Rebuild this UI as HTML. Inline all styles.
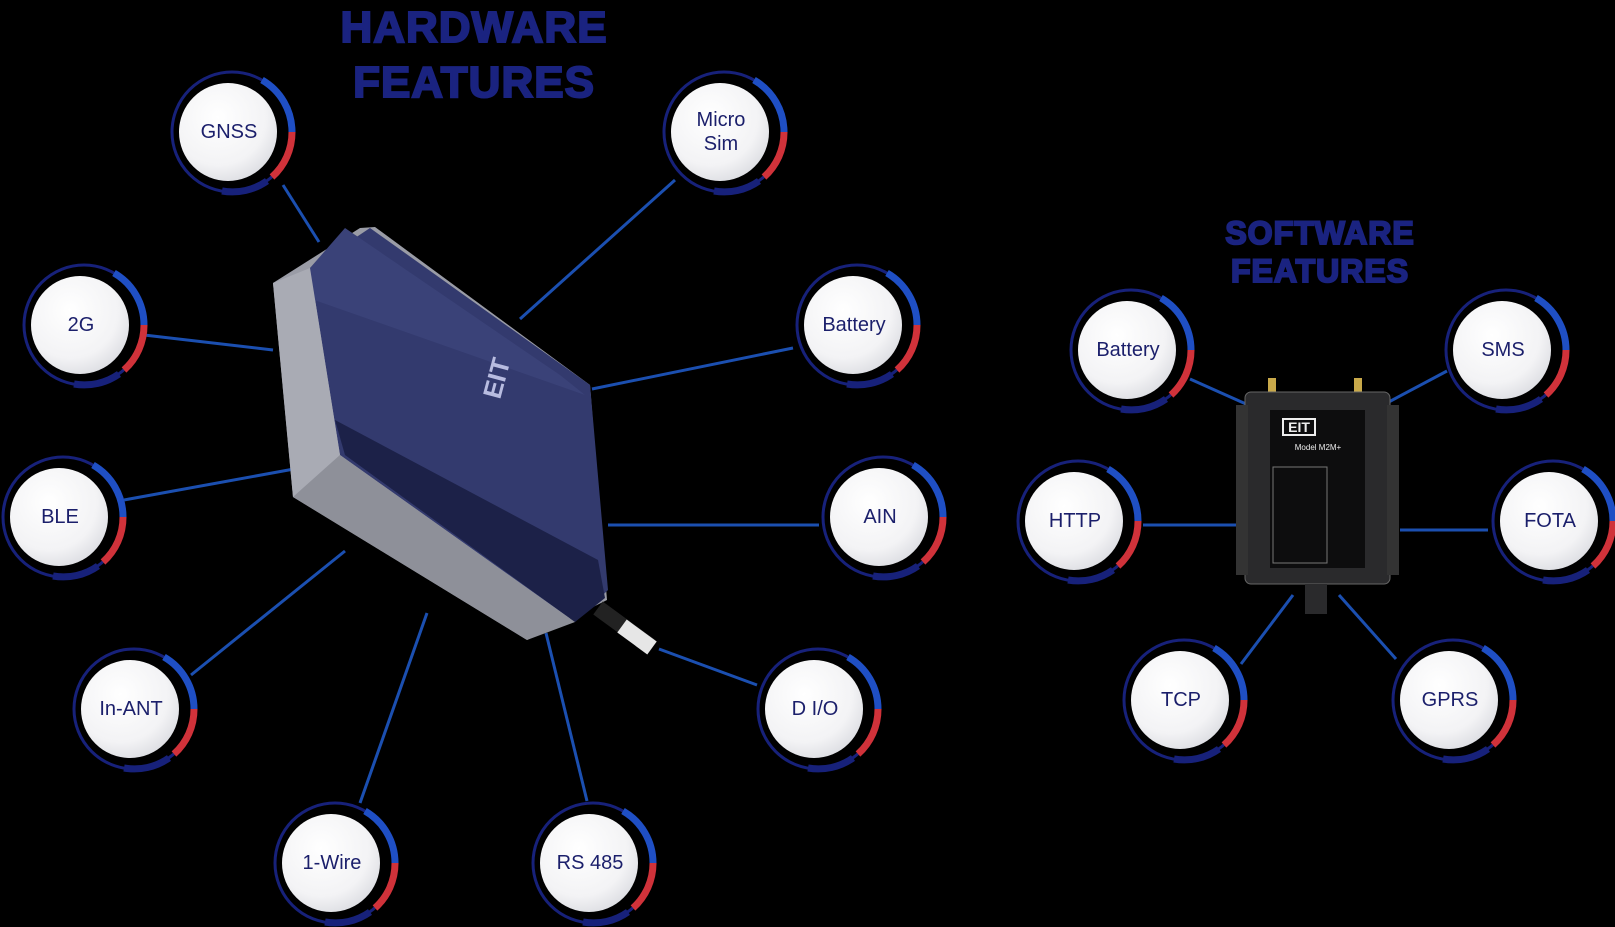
<!DOCTYPE html>
<html><head><meta charset="utf-8"><style>
html,body{margin:0;padding:0;background:#000;}
body{width:1615px;height:927px;overflow:hidden;}
svg{display:block}
.t{font-family:"Liberation Sans",sans-serif;fill:#1b1f6b;font-size:20px;text-anchor:middle;dominant-baseline:central}
.h{font-family:"Liberation Sans",sans-serif;font-weight:bold;fill:#1a2380;stroke:#1a2380;stroke-width:2;text-anchor:middle;letter-spacing:1px}
.ln{stroke:#1b4fb0;stroke-width:3}
</style></head><body>
<svg width="1615" height="927" viewBox="0 0 1615 927" xmlns="http://www.w3.org/2000/svg">
<defs>
<radialGradient id="wg" cx="0.4" cy="0.35" r="0.7"><stop offset="0" stop-color="#ffffff"/><stop offset="0.7" stop-color="#f3f3f5"/><stop offset="1" stop-color="#dcdde2"/></radialGradient>
<g id="c">
<circle r="60" fill="none" stroke="#17217a" stroke-width="3"/>
<path d="M30,-52 A60,60 0 0 1 60,0" fill="none" stroke="#1f4fc4" stroke-width="7"/>
<path d="M60,0 A60,60 0 0 1 40,45" fill="none" stroke="#d0323a" stroke-width="7"/>
<path d="M35,49 A60,60 0 0 1 -10,59" fill="none" stroke="#17217a" stroke-width="7"/>
<circle r="49" cx="-4" fill="url(#wg)"/>
</g>
</defs>
<text class="h" x="474" y="42" font-size="44">HARDWARE</text>
<text class="h" x="474" y="97" font-size="44">FEATURES</text>
<text class="h" x="1320" y="244" font-size="32">SOFTWARE</text>
<text class="h" x="1320" y="282" font-size="32">FEATURES</text>
<g class="ln">
<line x1="283" y1="185" x2="319" y2="242"/><line x1="675" y1="180" x2="520" y2="319"/>
<line x1="144" y1="335" x2="273" y2="350"/><line x1="793" y1="348" x2="592" y2="389"/>
<line x1="124" y1="500" x2="294" y2="469"/><line x1="819" y1="525" x2="608" y2="525"/>
<line x1="191" y1="675" x2="345" y2="551"/><line x1="757" y1="685" x2="659" y2="649"/>
<line x1="360" y1="803" x2="427" y2="613"/><line x1="587" y1="801" x2="546" y2="633"/>
<line x1="1190" y1="379" x2="1246" y2="404"/><line x1="1447" y1="371" x2="1385" y2="404"/>
<line x1="1143" y1="525" x2="1236" y2="525"/><line x1="1488" y1="530" x2="1400" y2="530"/>
<line x1="1241" y1="664" x2="1293" y2="595"/><line x1="1396" y1="659" x2="1339" y2="595"/>
</g>
<!-- left device -->
<polygon points="273,283 360,228 375,227 590,385 607,600 527,640 293,497" fill="#9a9ca6"/>
<polygon points="310,268 370,228 590,385 608,590 575,622 340,455" fill="#333a6e"/>
<polygon points="310,268 345,228 560,375 585,395 300,295" fill="#3a4278"/>
<polygon points="335,420 345,455 575,622 605,598 598,560" fill="#1c2148"/>
<polygon points="273,283 310,268 340,455 293,497" fill="#a9abb4"/>
<polygon points="293,497 340,455 575,622 527,640" fill="#8e9099"/>
<line x1="598" y1="608" x2="650" y2="646" stroke="#222" stroke-width="16"/>
<line x1="622" y1="626" x2="652" y2="648" stroke="#e6e6e6" stroke-width="16"/>
<text x="500" y="400" fill="#b8bce0" font-family="Liberation Sans,sans-serif" font-weight="bold" font-size="26" transform="rotate(-75 500 400)">EIT</text>
<!-- right device -->
<rect x="1268" y="378" width="8" height="16" fill="#c9a94a"/><rect x="1354" y="378" width="8" height="16" fill="#c9a94a"/>
<rect x="1245" y="392" width="145" height="192" rx="6" fill="#2a2a2c" stroke="#666" stroke-width="1"/>
<rect x="1236" y="405" width="12" height="170" fill="#333"/><rect x="1387" y="405" width="12" height="170" fill="#333"/>
<rect x="1270" y="410" width="95" height="158" fill="#0d0d0e"/>
<rect x="1283" y="419" width="32" height="16" fill="none" stroke="#eee" stroke-width="2"/>
<text x="1299" y="432" fill="#eee" font-family="Liberation Sans,sans-serif" font-weight="bold" font-size="14" text-anchor="middle">EIT</text>
<text x="1318" y="450" fill="#eee" font-family="Liberation Sans,sans-serif" font-size="8" text-anchor="middle">Model M2M+</text>
<rect x="1273" y="467" width="54" height="96" fill="none" stroke="#777" stroke-width="1"/>
<rect x="1305" y="584" width="22" height="30" fill="#2a2a2c"/>
<use href="#c" x="232" y="132"/><text class="t" x="229" y="132">GNSS</text>
<use href="#c" x="724" y="132"/><text class="t" x="721" y="120">Micro</text><text class="t" x="721" y="144">Sim</text>
<use href="#c" x="84" y="325"/><text class="t" x="81" y="325">2G</text>
<use href="#c" x="857" y="325"/><text class="t" x="854" y="325">Battery</text>
<use href="#c" x="63" y="517"/><text class="t" x="60" y="517">BLE</text>
<use href="#c" x="883" y="517"/><text class="t" x="880" y="517">AIN</text>
<use href="#c" x="134" y="709"/><text class="t" x="131" y="709">In-ANT</text>
<use href="#c" x="818" y="709"/><text class="t" x="815" y="709">D I/O</text>
<use href="#c" x="335" y="863"/><text class="t" x="332" y="863">1-Wire</text>
<use href="#c" x="593" y="863"/><text class="t" x="590" y="863">RS 485</text>
<use href="#c" x="1131" y="350"/><text class="t" x="1128" y="350">Battery</text>
<use href="#c" x="1506" y="350"/><text class="t" x="1503" y="350">SMS</text>
<use href="#c" x="1078" y="521"/><text class="t" x="1075" y="521">HTTP</text>
<use href="#c" x="1553" y="521"/><text class="t" x="1550" y="521">FOTA</text>
<use href="#c" x="1184" y="700"/><text class="t" x="1181" y="700">TCP</text>
<use href="#c" x="1453" y="700"/><text class="t" x="1450" y="700">GPRS</text>
</svg>
</body></html>
